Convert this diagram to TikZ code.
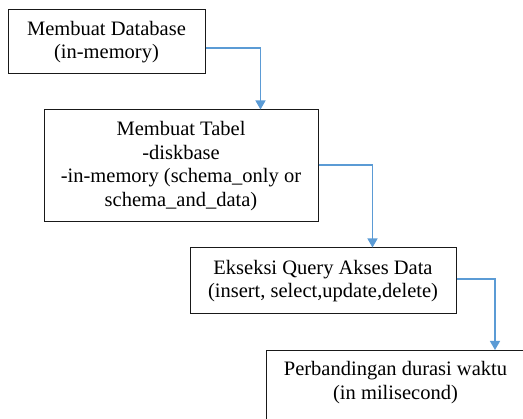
\documentclass[tikz,border=0pt]{standalone}
\usepackage{fontspec}
\setmainfont{Liberation Serif}
\usetikzlibrary{arrows.meta}
\definecolor{connblue}{HTML}{5B9BD5}
\begin{document}
\begin{tikzpicture}[x=1pt,y=-1pt,
  box/.style={draw=black!90, line width=1pt, fill=white, align=center, inner sep=0pt,
    font=\fontsize{20.5}{23.5}\selectfont},
  conn/.style={draw=connblue, line width=1.3pt, -{Triangle[width=10pt,length=9pt]}}]
\useasboundingbox (0,0) rectangle (523,419);
\clip (0,0) rectangle (523,419);
\node[box, minimum width=197pt, minimum height=64pt] (a) at (106.5,42) {Membuat Database\\(in-memory)};
\node[box, minimum width=274pt, minimum height=112pt] (b) at (181,166) {Membuat Tabel\\-diskbase\\-in-memory (schema\_only or\\schema\_and\_data)};
\node[box, minimum width=266pt, minimum height=66pt] (c) at (323,281) {Ekseksi Query Akses Data\\(insert, select,update,delete)};
\node[box, anchor=north west, minimum width=272pt, text depth=70pt, inner ysep=9pt] (d) at (266,350) {\begin{tabular}[t]{@{}c@{\hspace{14pt}}}Perbandingan durasi waktu\\(in milisecond)\end{tabular}};
\draw[conn] ([yshift=-6pt]a.east) -| ([xshift=217pt]b.north west);
\draw[conn] ([yshift=1pt]b.east) -| ([xshift=183pt]c.north west);
\draw[conn] ([yshift=2pt]c.east) -| ([xshift=229pt]d.north west);
\end{tikzpicture}
\end{document}
